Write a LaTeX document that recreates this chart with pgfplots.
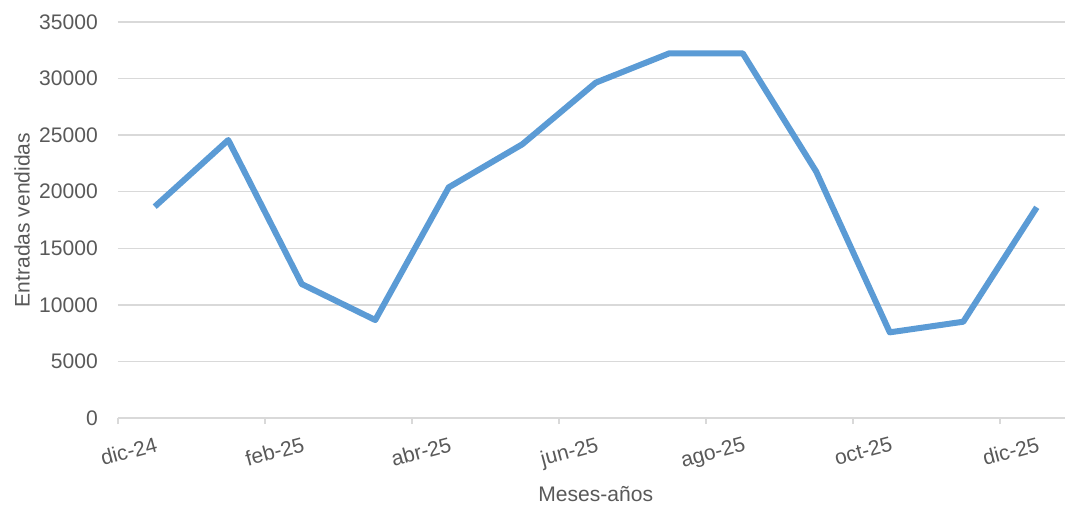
\documentclass[border=0pt]{standalone}
\usepackage{fontspec}
\setmainfont{Liberation Sans}
\usepackage{pgfplots}
\pgfplotsset{compat=1.18}
\definecolor{serie}{HTML}{5B9BD5}
\definecolor{texto}{HTML}{595959}
\definecolor{rejilla}{HTML}{D9D9D9}
\begin{document}
\begin{tikzpicture}[x=1pt,y=1pt]
\begin{axis}[
  scale only axis,
  width=710.25pt, height=297pt,
  xmin=-0.5, xmax=12.384,
  ymin=0, ymax=35000,
  axis line style={draw=none},
  clip=false,
  font=\fontsize{15.8}{18}\selectfont,
  ytick={0,5000,...,35000},
  ymajorgrids=true,
  grid style={rejilla,line width=1.1pt},
  major tick length=0pt,
  xtick pos=bottom, ytick pos=left,
  tick align=outside,
  yticklabel style={texto,inner sep=0pt,xshift=-15pt},
  scaled y ticks=false,
  /pgf/number format/.cd,1000 sep={},assume math mode=true,
  /pgfplots/.cd,
  xtick={0,2,...,12},
  xticklabels={dic-24,feb-25,abr-25,jun-25,ago-25,oct-25,dic-25},
  xticklabel style={texto,rotate=15,anchor=north east,inner sep=0pt,
    xshift=-3.5pt,yshift=-13pt},
  extra x ticks={-0.5,1.5,3.5,5.5,7.5,9.5,11.5},
  extra x tick labels={},
  extra x tick style={grid=none,major tick length=4.5pt,
    tick style={rejilla,line width=1.1pt}},
  xlabel={Meses-años},
  xlabel style={texto,at={(axis cs:6,0)},anchor=center,yshift=-57pt},
  ylabel={Entradas vendidas},
  ylabel style={texto,at={(axis description cs:0,0.5)},anchor=center,yshift=72pt},
]
\addplot[serie,line width=4.5pt,line join=round] coordinates {
  (0,18680)(1,24570)(2,11840)(3,8660)(4,20390)(5,24190)(6,29640)
  (7,32230)(8,32230)(9,21770)(10,7570)(11,8510)(12,18620)};
\end{axis}
\pgfresetboundingbox
\path[use as bounding box] (-88.5pt,-66.75pt) rectangle (710.25pt,313.5pt);
\end{tikzpicture}
\end{document}
